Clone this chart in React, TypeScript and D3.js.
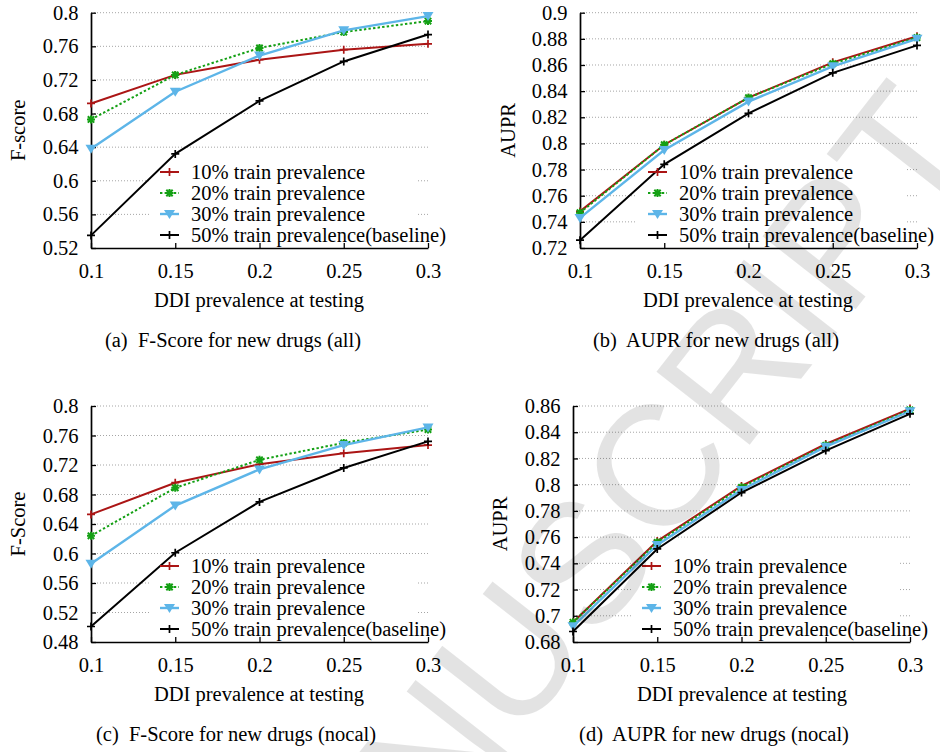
import React, { useEffect, useRef } from "react";
import * as d3 from "d3";

// x positions shared by every panel
const xValues = [0.1, 0.15, 0.2, 0.25, 0.3];
const xTickLabels = ["0.1", "0.15", "0.2", "0.25", "0.3"];

const seriesLabels = [
  "10% train prevalence",
  "20% train prevalence",
  "30% train prevalence",
  "50% train prevalence(baseline)",
];

// (a) F-score, all
const fAll10 = [0.692, 0.726, 0.744, 0.756, 0.763];
const fAll20 = [0.673, 0.726, 0.758, 0.777, 0.790];
const fAll30 = [0.638, 0.706, 0.749, 0.779, 0.796];
const fAll50 = [0.535, 0.632, 0.695, 0.742, 0.774];

// (b) AUPR, all
const aAll10 = [0.748, 0.799, 0.835, 0.862, 0.882];
const aAll20 = [0.747, 0.799, 0.835, 0.861, 0.881];
const aAll30 = [0.743, 0.795, 0.832, 0.859, 0.880];
const aAll50 = [0.726, 0.784, 0.823, 0.854, 0.875];

// (c) F-score, nocal
const fNocal10 = [0.653, 0.696, 0.721, 0.736, 0.747];
const fNocal20 = [0.624, 0.689, 0.727, 0.750, 0.768];
const fNocal30 = [0.586, 0.665, 0.714, 0.747, 0.771];
const fNocal50 = [0.501, 0.601, 0.670, 0.716, 0.752];

// (d) AUPR, nocal
const aNocal10 = [0.695, 0.757, 0.799, 0.831, 0.858];
const aNocal20 = [0.695, 0.756, 0.798, 0.830, 0.857];
const aNocal30 = [0.692, 0.754, 0.796, 0.829, 0.856];
const aNocal50 = [0.688, 0.751, 0.794, 0.826, 0.854];

// y tick values
const fAllTicks = [0.52, 0.56, 0.6, 0.64, 0.68, 0.72, 0.76, 0.8];
const aAllTicks = [0.72, 0.74, 0.76, 0.78, 0.8, 0.82, 0.84, 0.86, 0.88, 0.9];
const fNocalTicks = [0.48, 0.52, 0.56, 0.6, 0.64, 0.68, 0.72, 0.76, 0.8];
const aNocalTicks = [0.68, 0.7, 0.72, 0.74, 0.76, 0.78, 0.8, 0.82, 0.84, 0.86];

const colors = ["#ab1515", "#14a014", "#5db5e8", "#000000"];
const dashes = [null, "2.4,2.2", null, null];
const markers = ["plus", "star", "tri", "plus"];

const FONT = "'Liberation Serif', 'Times New Roman', serif";
const FS = 20.5;

const panels = [
  {
    left: 91, right: 428, top: 12.7, bottom: 248, ticks: fAllTicks,
    series: [fAll10, fAll20, fAll30, fAll50], yLabel: "F-score", yLabelX: 25,
    legendX: 160, legendY: 172, xLabelX: 259,
    caption: "(a)  F-Score for new drugs (all)", captionX: 233,
  },
  {
    left: 580, right: 917, top: 12.7, bottom: 248, ticks: aAllTicks,
    series: [aAll10, aAll20, aAll30, aAll50], yLabel: "AUPR", yLabelX: 515,
    legendX: 648, legendY: 172, xLabelX: 748,
    caption: "(b)  AUPR for new drugs (all)", captionX: 716,
  },
  {
    left: 91, right: 428, top: 406, bottom: 642, ticks: fNocalTicks,
    series: [fNocal10, fNocal20, fNocal30, fNocal50], yLabel: "F-Score", yLabelX: 25,
    legendX: 160, legendY: 566, xLabelX: 259,
    caption: "(c)  F-Score for new drugs (nocal)", captionX: 236,
  },
  {
    left: 573, right: 910, top: 406, bottom: 642, ticks: aNocalTicks,
    series: [aNocal10, aNocal20, aNocal30, aNocal50], yLabel: "AUPR", yLabelX: 507,
    legendX: 642, legendY: 566, xLabelX: 742,
    caption: "(d)  AUPR for new drugs (nocal)", captionX: 714,
  },
];

function drawMarker(g, kind, cx, cy, color) {
  if (kind === "tri") {
    g.append("path")
      .attr("d", `M${cx - 5.5},${cy - 4} L${cx + 5.5},${cy - 4} L${cx},${cy + 5} Z`)
      .attr("fill", color);
  } else if (kind === "star") {
    g.append("path")
      .attr("d", `M${cx - 4},${cy} H${cx + 4} M${cx},${cy - 4} V${cy + 4} M${cx - 3.2},${cy - 3.2} L${cx + 3.2},${cy + 3.2} M${cx - 3.2},${cy + 3.2} L${cx + 3.2},${cy - 3.2}`)
      .attr("stroke", color).attr("stroke-width", 2).attr("fill", "none");
  } else {
    g.append("path")
      .attr("d", `M${cx - 4},${cy} H${cx + 4} M${cx},${cy - 4} V${cy + 4}`)
      .attr("stroke", color).attr("stroke-width", 1.7).attr("fill", "none");
  }
}

function drawPanel(root, p) {
  const g = root.append("g");
  const x = d3.scaleLinear().domain([0.1, 0.3]).range([p.left, p.right]);
  const y = d3.scaleLinear()
    .domain([p.ticks[0], p.ticks[p.ticks.length - 1]])
    .range([p.bottom, p.top]);

  // dotted grid
  g.selectAll(".grid")
    .data(p.ticks.slice(1))
    .enter().append("line")
    .attr("x1", p.left).attr("x2", p.right)
    .attr("y1", (d) => y(d)).attr("y2", (d) => y(d))
    .attr("stroke", "#a5a5a5").attr("stroke-width", 1)
    .attr("stroke-dasharray", "1,2");

  // opaque key box
  g.append("rect")
    .attr("x", p.legendX - 11).attr("y", p.legendY - 11)
    .attr("width", p.right - 12 - (p.legendX - 11)).attr("height", 21 * 4 + 1)
    .attr("fill", "#fff");

  // axes
  const yAxis = g.append("g")
    .attr("transform", `translate(${p.left},0)`)
    .call(d3.axisLeft(y).tickValues(p.ticks).tickFormat(d3.format("~g"))
      .tickSizeInner(-5).tickSizeOuter(0).tickPadding(12.5));
  const xAxis = g.append("g")
    .attr("transform", `translate(0,${p.bottom})`)
    .call(d3.axisBottom(x).tickValues(xValues).tickFormat((d, i) => xTickLabels[i])
      .tickSizeInner(-5).tickSizeOuter(0).tickPadding(15));
  [yAxis, xAxis].forEach((ax) => {
    ax.attr("font-family", FONT).attr("font-size", FS);
    ax.select(".domain").attr("stroke", "#000").attr("stroke-width", 1.7);
    ax.selectAll(".tick line").attr("stroke", "#000").attr("stroke-width", 1.3);
    ax.selectAll(".tick text").attr("fill", "#000");
  });

  // series
  const line = d3.line()
    .x((d, i) => x(xValues[i]))
    .y((d) => y(d));
  p.series.forEach((vals, si) => {
    g.append("path")
      .datum(vals)
      .attr("d", line)
      .attr("fill", "none")
      .attr("stroke", colors[si])
      .attr("stroke-width", si === 2 ? 2.4 : 2)
      .attr("stroke-dasharray", dashes[si]);
    vals.forEach((v, i) => drawMarker(g, markers[si], x(xValues[i]), y(v), colors[si]));
  });

  // key
  seriesLabels.forEach((label, si) => {
    const ly = p.legendY + si * 21;
    g.append("line")
      .attr("x1", p.legendX).attr("x2", p.legendX + 19)
      .attr("y1", ly).attr("y2", ly)
      .attr("stroke", colors[si]).attr("stroke-width", si === 2 ? 2.4 : 2)
      .attr("stroke-dasharray", dashes[si]);
    drawMarker(g, markers[si], p.legendX + 9.5, ly, colors[si]);
    g.append("text")
      .attr("x", p.legendX + 31).attr("y", ly)
      .attr("dy", "0.34em")
      .attr("font-family", FONT).attr("font-size", FS)
      .text(label);
  });

  // labels
  g.append("text")
    .attr("transform", `translate(${p.yLabelX},${(p.top + p.bottom) / 2}) rotate(-90)`)
    .attr("text-anchor", "middle")
    .attr("font-family", FONT).attr("font-size", FS)
    .text(p.yLabel);
  g.append("text")
    .attr("x", p.xLabelX).attr("y", p.bottom + 59)
    .attr("text-anchor", "middle")
    .attr("font-family", FONT).attr("font-size", FS)
    .text("DDI prevalence at testing");
  g.append("text")
    .attr("x", p.captionX).attr("y", p.bottom + 99)
    .attr("text-anchor", "middle")
    .attr("font-family", FONT).attr("font-size", FS)
    .style("white-space", "pre")
    .text(p.caption);
}

export default function App() {
  const ref = useRef(null);

  useEffect(() => {
    const root = d3.select(ref.current);
    root.selectAll("*").remove();
    panels.forEach((p) => drawPanel(root, p));

    // journal watermark laid over the page
    root.append("text")
      .attr("transform", "translate(935,110) rotate(-52)")
      .attr("text-anchor", "end")
      .attr("dominant-baseline", "central")
      .attr("font-family", "'Liberation Sans', Arial, sans-serif")
      .attr("font-size", 172)
      .attr("fill", "#000")
      .attr("fill-opacity", 0.11)
      .text("ACCEPTED MANUSCRIPT");
  }, []);

  return (
    <svg
      ref={ref}
      width={940}
      height={752}
      style={{ position: "absolute", left: 0, top: 0, background: "#fff" }}
    />
  );
}
